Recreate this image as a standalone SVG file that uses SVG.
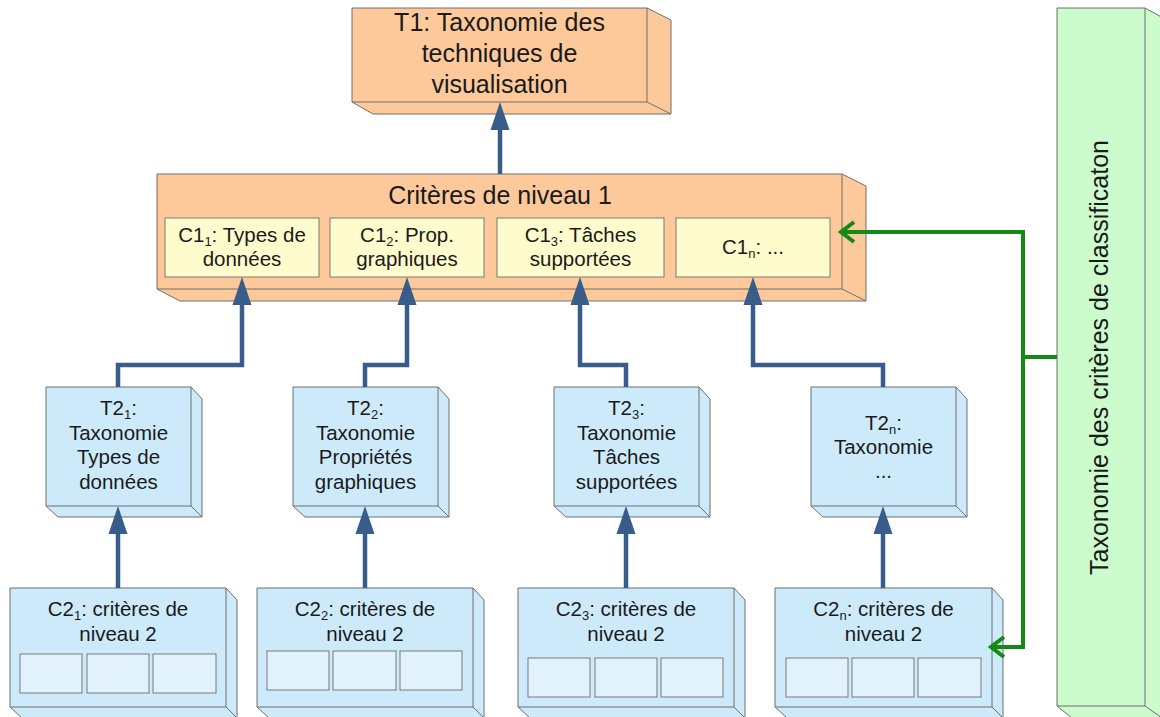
<svg xmlns="http://www.w3.org/2000/svg" width="1160" height="717" viewBox="0 0 1160 717">
<defs>
<style>
.box{stroke:#6e6e6e;stroke-width:1}
.ln{fill:none;stroke:#6e6e6e;stroke-width:1}
.or{fill:#fdc99a}
.bl{fill:#cdeafb}
.gr{fill:#ccfccc}
.yl{fill:#fefccc;stroke:#7a7a7a;stroke-width:1}
.sb{fill:#e1f2fc;stroke:#7a7a7a;stroke-width:1}
text{font-family:"Liberation Sans",Arial,sans-serif;fill:#1a1a1a;text-anchor:middle}
.t20{font-size:20.5px}
.t25{font-size:25px}
.sub{font-size:13px}
.blue{fill:none;stroke:#385d8a;stroke-width:4.5;stroke-linejoin:miter}
.green{fill:none;stroke:#138a13;stroke-width:4;stroke-linejoin:miter}
</style>
<marker id="ah" markerUnits="userSpaceOnUse" markerWidth="30" markerHeight="20" viewBox="0 0 30 20" refX="1" refY="10" orient="auto">
<path d="M0,0.5 L28,10 L0,19.5 z" fill="#385d8a"/>
</marker>
<marker id="gh" markerUnits="userSpaceOnUse" markerWidth="20" markerHeight="26" viewBox="-2 -3 20 26" refX="13" refY="10" orient="auto-start-reverse">
<path d="M0,0 L13,10 L0,20" fill="none" stroke="#138a13" stroke-width="4"/>
</marker>
</defs>

<g id="T1">
<polygon class="box or" points="352,8 647,8 671,20 671,114 373,114 352,102"/>
<path class="ln" d="M647,8 V102 M352,102 H647 L671,114"/>
<text class="t25" x="499.5" y="31">T1: Taxonomie des</text>
<text class="t25" x="499.5" y="62">techniques de</text>
<text class="t25" x="499.5" y="93">visualisation</text>
</g>

<g id="C1">
<polygon class="box or" points="157,174 842,174 866,186 866,301 180,301 157,289"/>
<path class="ln" d="M842,174 V289 M157,289 H842 L866,301"/>
<text class="t25" x="500" y="204">Critères de niveau 1</text>
<g id="C1_1">
<rect class="yl" x="165" y="218" width="154" height="59"/>
<text class="t20" x="242" y="242">C1<tspan class="sub" dy="4">1</tspan><tspan dy="-4">: Types de</tspan></text>
<text class="t20" x="242" y="266">données</text>
</g>
<g id="C1_2">
<rect class="yl" x="330" y="218" width="154" height="59"/>
<text class="t20" x="407" y="242">C1<tspan class="sub" dy="4">2</tspan><tspan dy="-4">: Prop.</tspan></text>
<text class="t20" x="407" y="266">graphiques</text>
</g>
<g id="C1_3">
<rect class="yl" x="497" y="218" width="167" height="59"/>
<text class="t20" x="580.5" y="242">C1<tspan class="sub" dy="4">3</tspan><tspan dy="-4">: Tâches</tspan></text>
<text class="t20" x="580.5" y="266">supportées</text>
</g>
<g id="C1_n">
<rect class="yl" x="676" y="218" width="154" height="59"/>
<text class="t20" x="753" y="254">C1<tspan class="sub" dy="4">n</tspan><tspan dy="-4">: ...</tspan></text>
</g>
</g>

<g id="T2_1">
<polygon class="box bl" points="46,387 191,387 202,399 202,517 58,517 46,506"/>
<path class="ln" d="M191,387 V506 M46,506 H191 L202,517"/>
<text class="t20" x="118.5" y="415">T2<tspan class="sub" dy="4">1</tspan><tspan dy="-4">:</tspan></text>
<text class="t20" x="118.5" y="440">Taxonomie</text>
<text class="t20" x="118.5" y="464">Types de</text>
<text class="t20" x="118.5" y="489">données</text>
</g>
<g id="T2_2">
<polygon class="box bl" points="293,387 438,387 449,399 449,517 305,517 293,506"/>
<path class="ln" d="M438,387 V506 M293,506 H438 L449,517"/>
<text class="t20" x="365.5" y="415">T2<tspan class="sub" dy="4">2</tspan><tspan dy="-4">:</tspan></text>
<text class="t20" x="365.5" y="440">Taxonomie</text>
<text class="t20" x="365.5" y="464">Propriétés</text>
<text class="t20" x="365.5" y="489">graphiques</text>
</g>
<g id="T2_3">
<polygon class="box bl" points="554,387 699,387 710,399 710,517 566,517 554,506"/>
<path class="ln" d="M699,387 V506 M554,506 H699 L710,517"/>
<text class="t20" x="626.5" y="415">T2<tspan class="sub" dy="4">3</tspan><tspan dy="-4">:</tspan></text>
<text class="t20" x="626.5" y="440">Taxonomie</text>
<text class="t20" x="626.5" y="464">Tâches</text>
<text class="t20" x="626.5" y="489">supportées</text>
</g>
<g id="T2_n">
<polygon class="box bl" points="811,387 956,387 967,399 967,517 823,517 811,506"/>
<path class="ln" d="M956,387 V506 M811,506 H956 L967,517"/>
<text class="t20" x="883.5" y="430">T2<tspan class="sub" dy="4">n</tspan><tspan dy="-4">:</tspan></text>
<text class="t20" x="883.5" y="454">Taxonomie</text>
<text class="t20" x="883.5" y="478">...</text>
</g>

<g id="C2_1">
<polygon class="box bl" points="10,588 226,588 237,600 237,718 22,718 10,707"/>
<path class="ln" d="M226,588 V707 M10,707 H226 L237,718"/>
<text class="t20" x="118" y="616">C2<tspan class="sub" dy="4">1</tspan><tspan dy="-4">: critères de</tspan></text>
<text class="t20" x="118" y="641">niveau 2</text>
<rect class="sb" x="20" y="654" width="62" height="39"/>
<rect class="sb" x="87" y="654" width="62" height="39"/>
<rect class="sb" x="153" y="654" width="63" height="39"/>
</g>
<g id="C2_2">
<polygon class="box bl" points="257,588 473,588 484,600 484,718 269,718 257,707"/>
<path class="ln" d="M473,588 V707 M257,707 H473 L484,718"/>
<text class="t20" x="365" y="616">C2<tspan class="sub" dy="4">2</tspan><tspan dy="-4">: critères de</tspan></text>
<text class="t20" x="365" y="641">niveau 2</text>
<rect class="sb" x="267" y="651" width="62" height="39"/>
<rect class="sb" x="333" y="651" width="63" height="39"/>
<rect class="sb" x="400" y="651" width="62" height="39"/>
</g>
<g id="C2_3">
<polygon class="box bl" points="518,588 734,588 745,600 745,718 530,718 518,707"/>
<path class="ln" d="M734,588 V707 M518,707 H734 L745,718"/>
<text class="t20" x="626" y="616">C2<tspan class="sub" dy="4">3</tspan><tspan dy="-4">: critères de</tspan></text>
<text class="t20" x="626" y="641">niveau 2</text>
<rect class="sb" x="528" y="658" width="62" height="39"/>
<rect class="sb" x="595" y="658" width="62" height="39"/>
<rect class="sb" x="661" y="658" width="62" height="39"/>
</g>
<g id="C2_n">
<polygon class="box bl" points="775,588 992,588 1003,600 1003,718 787,718 775,707"/>
<path class="ln" d="M992,588 V707 M775,707 H992 L1003,718"/>
<text class="t20" x="883.5" y="616">C2<tspan class="sub" dy="4">n</tspan><tspan dy="-4">: critères de</tspan></text>
<text class="t20" x="883.5" y="641">niveau 2</text>
<rect class="sb" x="786" y="658" width="62" height="39"/>
<rect class="sb" x="852" y="658" width="62" height="39"/>
<rect class="sb" x="918" y="658" width="63" height="39"/>
</g>

<g id="TC">
<polygon class="box gr" points="1057,8 1145,8 1165,19 1165,718 1072,718 1057,706"/>
<path class="ln" d="M1145,8 V706 M1057,706 H1145 L1162,718"/>
<text class="t25" transform="translate(1108,357.5) rotate(-90)" x="0" y="0">Taxonomie des critères de classificaton</text>
</g>

<g id="connectors">
<path class="blue" d="M500,174 V129" marker-end="url(#ah)"/>
<path class="blue" d="M118,387 V365 H242 V304" marker-end="url(#ah)"/>
<path class="blue" d="M365,387 V365 H407 V304" marker-end="url(#ah)"/>
<path class="blue" d="M626,387 V365 H580 V304" marker-end="url(#ah)"/>
<path class="blue" d="M883,387 V365 H753 V304" marker-end="url(#ah)"/>
<path class="blue" d="M118,588 V533" marker-end="url(#ah)"/>
<path class="blue" d="M365,588 V533" marker-end="url(#ah)"/>
<path class="blue" d="M626,588 V533" marker-end="url(#ah)"/>
<path class="blue" d="M883,588 V533" marker-end="url(#ah)"/>
<path class="green" d="M841,232 H1023 V647 H991" marker-start="url(#gh)" marker-end="url(#gh)"/>
<path class="green" d="M1021,357 H1057"/>
</g>
</svg>
